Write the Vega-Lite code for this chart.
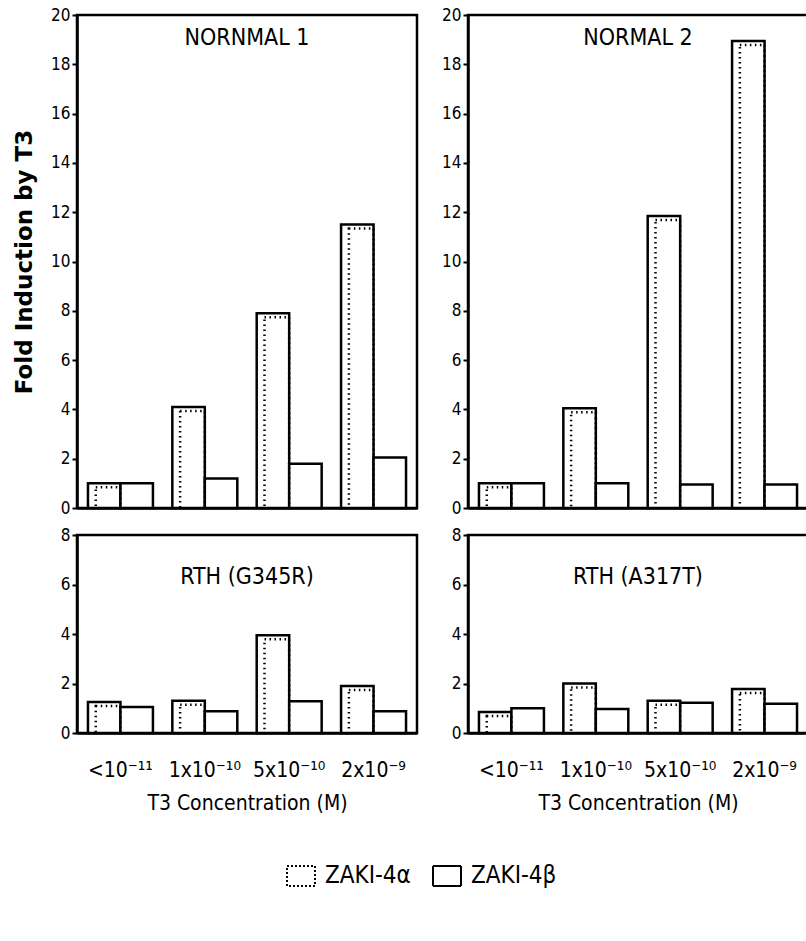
{
  "$schema": "https://vega.github.io/schema/vega-lite/v6.json",
  "background": "white",
  "padding": {"left": 12, "top": 4, "right": 0, "bottom": 0},
  "data": {"values": [
    {"panel": "N1", "conc": "<10⁻¹¹", "series": "ZAKI-4α", "value": 1.0},
    {"panel": "N1", "conc": "<10⁻¹¹", "series": "ZAKI-4β", "value": 1.0},
    {"panel": "N1", "conc": "1x10⁻¹⁰", "series": "ZAKI-4α", "value": 4.1},
    {"panel": "N1", "conc": "1x10⁻¹⁰", "series": "ZAKI-4β", "value": 1.2},
    {"panel": "N1", "conc": "5x10⁻¹⁰", "series": "ZAKI-4α", "value": 7.9},
    {"panel": "N1", "conc": "5x10⁻¹⁰", "series": "ZAKI-4β", "value": 1.8},
    {"panel": "N1", "conc": "2x10⁻⁹", "series": "ZAKI-4α", "value": 11.5},
    {"panel": "N1", "conc": "2x10⁻⁹", "series": "ZAKI-4β", "value": 2.05},
    {"panel": "N2", "conc": "<10⁻¹¹", "series": "ZAKI-4α", "value": 1.0},
    {"panel": "N2", "conc": "<10⁻¹¹", "series": "ZAKI-4β", "value": 1.0},
    {"panel": "N2", "conc": "1x10⁻¹⁰", "series": "ZAKI-4α", "value": 4.05},
    {"panel": "N2", "conc": "1x10⁻¹⁰", "series": "ZAKI-4β", "value": 1.0},
    {"panel": "N2", "conc": "5x10⁻¹⁰", "series": "ZAKI-4α", "value": 11.85},
    {"panel": "N2", "conc": "5x10⁻¹⁰", "series": "ZAKI-4β", "value": 0.95},
    {"panel": "N2", "conc": "2x10⁻⁹", "series": "ZAKI-4α", "value": 18.95},
    {"panel": "N2", "conc": "2x10⁻⁹", "series": "ZAKI-4β", "value": 0.95},
    {"panel": "G", "conc": "<10⁻¹¹", "series": "ZAKI-4α", "value": 1.25},
    {"panel": "G", "conc": "<10⁻¹¹", "series": "ZAKI-4β", "value": 1.05},
    {"panel": "G", "conc": "1x10⁻¹⁰", "series": "ZAKI-4α", "value": 1.3},
    {"panel": "G", "conc": "1x10⁻¹⁰", "series": "ZAKI-4β", "value": 0.88},
    {"panel": "G", "conc": "5x10⁻¹⁰", "series": "ZAKI-4α", "value": 3.95},
    {"panel": "G", "conc": "5x10⁻¹⁰", "series": "ZAKI-4β", "value": 1.28},
    {"panel": "G", "conc": "2x10⁻⁹", "series": "ZAKI-4α", "value": 1.9},
    {"panel": "G", "conc": "2x10⁻⁹", "series": "ZAKI-4β", "value": 0.88},
    {"panel": "A", "conc": "<10⁻¹¹", "series": "ZAKI-4α", "value": 0.85},
    {"panel": "A", "conc": "<10⁻¹¹", "series": "ZAKI-4β", "value": 1.0},
    {"panel": "A", "conc": "1x10⁻¹⁰", "series": "ZAKI-4α", "value": 2.0},
    {"panel": "A", "conc": "1x10⁻¹⁰", "series": "ZAKI-4β", "value": 0.97},
    {"panel": "A", "conc": "5x10⁻¹⁰", "series": "ZAKI-4α", "value": 1.3},
    {"panel": "A", "conc": "5x10⁻¹⁰", "series": "ZAKI-4β", "value": 1.22},
    {"panel": "A", "conc": "2x10⁻⁹", "series": "ZAKI-4α", "value": 1.78},
    {"panel": "A", "conc": "2x10⁻⁹", "series": "ZAKI-4β", "value": 1.18}
  ]},
  "columns": 2,
  "align": "each",
  "spacing": {"row": 6, "column": 21},
  "concat": [
    {
      "width": 340, "height": 493,
      "title": {"text": "NORNMAL 1", "offset": -44},
      "transform": [{"filter": "datum.panel == 'N1'"}],
      "encoding": {
        "x": {"field": "conc", "type": "nominal", "sort": ["<10⁻¹¹", "1x10⁻¹⁰", "5x10⁻¹⁰", "2x10⁻⁹"], "scale": {"paddingInner": 0.23, "paddingOuter": 0.13}, "axis": {"labels": false, "ticks": false, "title": null}},
        "xOffset": {"field": "series", "type": "nominal", "scale": {"domain": ["ZAKI-4α", "ZAKI-4β"], "paddingInner": 0, "paddingOuter": 0}},
        "y": {"field": "value", "type": "quantitative", "scale": {"domain": [0, 20], "nice": false}, "axis": {"values": [0, 2, 4, 6, 8, 10, 12, 14, 16, 18, 20], "title": "Fold Induction by T3", "titleFont": "DejaVu Sans", "titleFontWeight": "bold", "titleFontSize": 23, "titlePadding": 14}}
      },
      "layer": [
        {"mark": {"type": "bar", "stroke": "black", "strokeWidth": 2.5},
         "encoding": {"fill": {"field": "series", "type": "nominal", "scale": {"domain": ["ZAKI-4α", "ZAKI-4β"], "range": ["white", "white"]},
           "legend": {"orient": "none", "legendX": 212, "legendY": 849, "direction": "horizontal", "title": null, "labelFontSize": 24, "labelColor": "black", "symbolType": "M-1.4,-1H1.4V1H-1.4Z", "symbolSize": 400, "symbolStrokeColor": "black", "symbolStrokeWidth": 2, "labelOffset": 12, "columnPadding": 18,
             "encode": {"symbols": {"update": {"stroke": {"value": "black"}, "strokeWidth": {"value": 2}, "strokeDash": {"signal": "datum.value == 'ZAKI-4α' ? [2, 2] : [1, 0]"}}}}}}}},
        {"transform": [{"filter": "datum.series == 'ZAKI-4α'"}],
         "mark": {"type": "bar", "width": {"band": 0.76}, "yOffset": 4, "clip": true, "fillOpacity": 0, "stroke": "black", "strokeWidth": 2.5, "strokeDash": [1.5, 3.5]}}
      ]
    },
    {
      "width": 340, "height": 493,
      "title": {"text": "NORMAL 2", "offset": -44},
      "transform": [{"filter": "datum.panel == 'N2'"}],
      "encoding": {
        "x": {"field": "conc", "type": "nominal", "sort": ["<10⁻¹¹", "1x10⁻¹⁰", "5x10⁻¹⁰", "2x10⁻⁹"], "scale": {"paddingInner": 0.23, "paddingOuter": 0.13}, "axis": {"labels": false, "ticks": false, "title": null}},
        "xOffset": {"field": "series", "type": "nominal", "scale": {"domain": ["ZAKI-4α", "ZAKI-4β"], "paddingInner": 0, "paddingOuter": 0}},
        "y": {"field": "value", "type": "quantitative", "scale": {"domain": [0, 20], "nice": false}, "axis": {"values": [0, 2, 4, 6, 8, 10, 12, 14, 16, 18, 20], "title": null}}
      },
      "layer": [
        {"mark": {"type": "bar", "stroke": "black", "strokeWidth": 2.5},
         "encoding": {"fill": {"field": "series", "type": "nominal", "scale": {"domain": ["ZAKI-4α", "ZAKI-4β"], "range": ["white", "white"]}, "legend": null}}},
        {"transform": [{"filter": "datum.series == 'ZAKI-4α'"}],
         "mark": {"type": "bar", "width": {"band": 0.76}, "yOffset": 4, "clip": true, "fillOpacity": 0, "stroke": "black", "strokeWidth": 2.5, "strokeDash": [1.5, 3.5]}}
      ]
    },
    {
      "width": 340, "height": 198,
      "title": {"text": "RTH (G345R)", "offset": -63},
      "transform": [{"filter": "datum.panel == 'G'"}],
      "encoding": {
        "x": {"field": "conc", "type": "nominal", "sort": ["<10⁻¹¹", "1x10⁻¹⁰", "5x10⁻¹⁰", "2x10⁻⁹"], "scale": {"paddingInner": 0.23, "paddingOuter": 0.13}, "axis": {"labelAngle": 0, "ticks": false, "labelFontSize": 21, "labelPadding": 26, "title": "T3 Concentration (M)", "titleFontSize": 21, "titleFontWeight": "normal", "titlePadding": 12}},
        "xOffset": {"field": "series", "type": "nominal", "scale": {"domain": ["ZAKI-4α", "ZAKI-4β"], "paddingInner": 0, "paddingOuter": 0}},
        "y": {"field": "value", "type": "quantitative", "scale": {"domain": [0, 8], "nice": false}, "axis": {"values": [0, 2, 4, 6, 8], "title": null}}
      },
      "layer": [
        {"mark": {"type": "bar", "stroke": "black", "strokeWidth": 2.5},
         "encoding": {"fill": {"field": "series", "type": "nominal", "scale": {"domain": ["ZAKI-4α", "ZAKI-4β"], "range": ["white", "white"]}, "legend": null}}},
        {"transform": [{"filter": "datum.series == 'ZAKI-4α'"}],
         "mark": {"type": "bar", "width": {"band": 0.76}, "yOffset": 4, "clip": true, "fillOpacity": 0, "stroke": "black", "strokeWidth": 2.5, "strokeDash": [1.5, 3.5]}}
      ]
    },
    {
      "width": 340, "height": 198,
      "title": {"text": "RTH (A317T)", "offset": -63},
      "transform": [{"filter": "datum.panel == 'A'"}],
      "encoding": {
        "x": {"field": "conc", "type": "nominal", "sort": ["<10⁻¹¹", "1x10⁻¹⁰", "5x10⁻¹⁰", "2x10⁻⁹"], "scale": {"paddingInner": 0.23, "paddingOuter": 0.13}, "axis": {"labelAngle": 0, "ticks": false, "labelFontSize": 21, "labelPadding": 26, "title": "T3 Concentration (M)", "titleFontSize": 21, "titleFontWeight": "normal", "titlePadding": 12}},
        "xOffset": {"field": "series", "type": "nominal", "scale": {"domain": ["ZAKI-4α", "ZAKI-4β"], "paddingInner": 0, "paddingOuter": 0}},
        "y": {"field": "value", "type": "quantitative", "scale": {"domain": [0, 8], "nice": false}, "axis": {"values": [0, 2, 4, 6, 8], "title": null}}
      },
      "layer": [
        {"mark": {"type": "bar", "stroke": "black", "strokeWidth": 2.5},
         "encoding": {"fill": {"field": "series", "type": "nominal", "scale": {"domain": ["ZAKI-4α", "ZAKI-4β"], "range": ["white", "white"]}, "legend": null}}},
        {"transform": [{"filter": "datum.series == 'ZAKI-4α'"}],
         "mark": {"type": "bar", "width": {"band": 0.76}, "yOffset": 4, "clip": true, "fillOpacity": 0, "stroke": "black", "strokeWidth": 2.5, "strokeDash": [1.5, 3.5]}}
      ]
    }
  ],
  "config": {
    "font": "DejaVu Sans Condensed, Liberation Sans, sans-serif",
    "view": {"stroke": "black", "strokeWidth": 2.5},
    "axis": {"domainColor": "black", "domainWidth": 2.5, "tickColor": "black", "tickWidth": 2, "grid": false, "labelColor": "black", "titleColor": "black", "labelFont": "DejaVu Sans Condensed, Liberation Sans, sans-serif", "titleFont": "DejaVu Sans Condensed, Liberation Sans, sans-serif"},
    "axisY": {"tickSize": 5, "labelFontSize": 17, "labelPadding": 2},
    "legend": {"labelFont": "DejaVu Sans Condensed, Liberation Sans, sans-serif"},
    "title": {"font": "DejaVu Sans Condensed, Liberation Sans, sans-serif", "fontSize": 23, "fontWeight": "normal", "color": "black", "anchor": "middle", "frame": "group"}
  }
}
